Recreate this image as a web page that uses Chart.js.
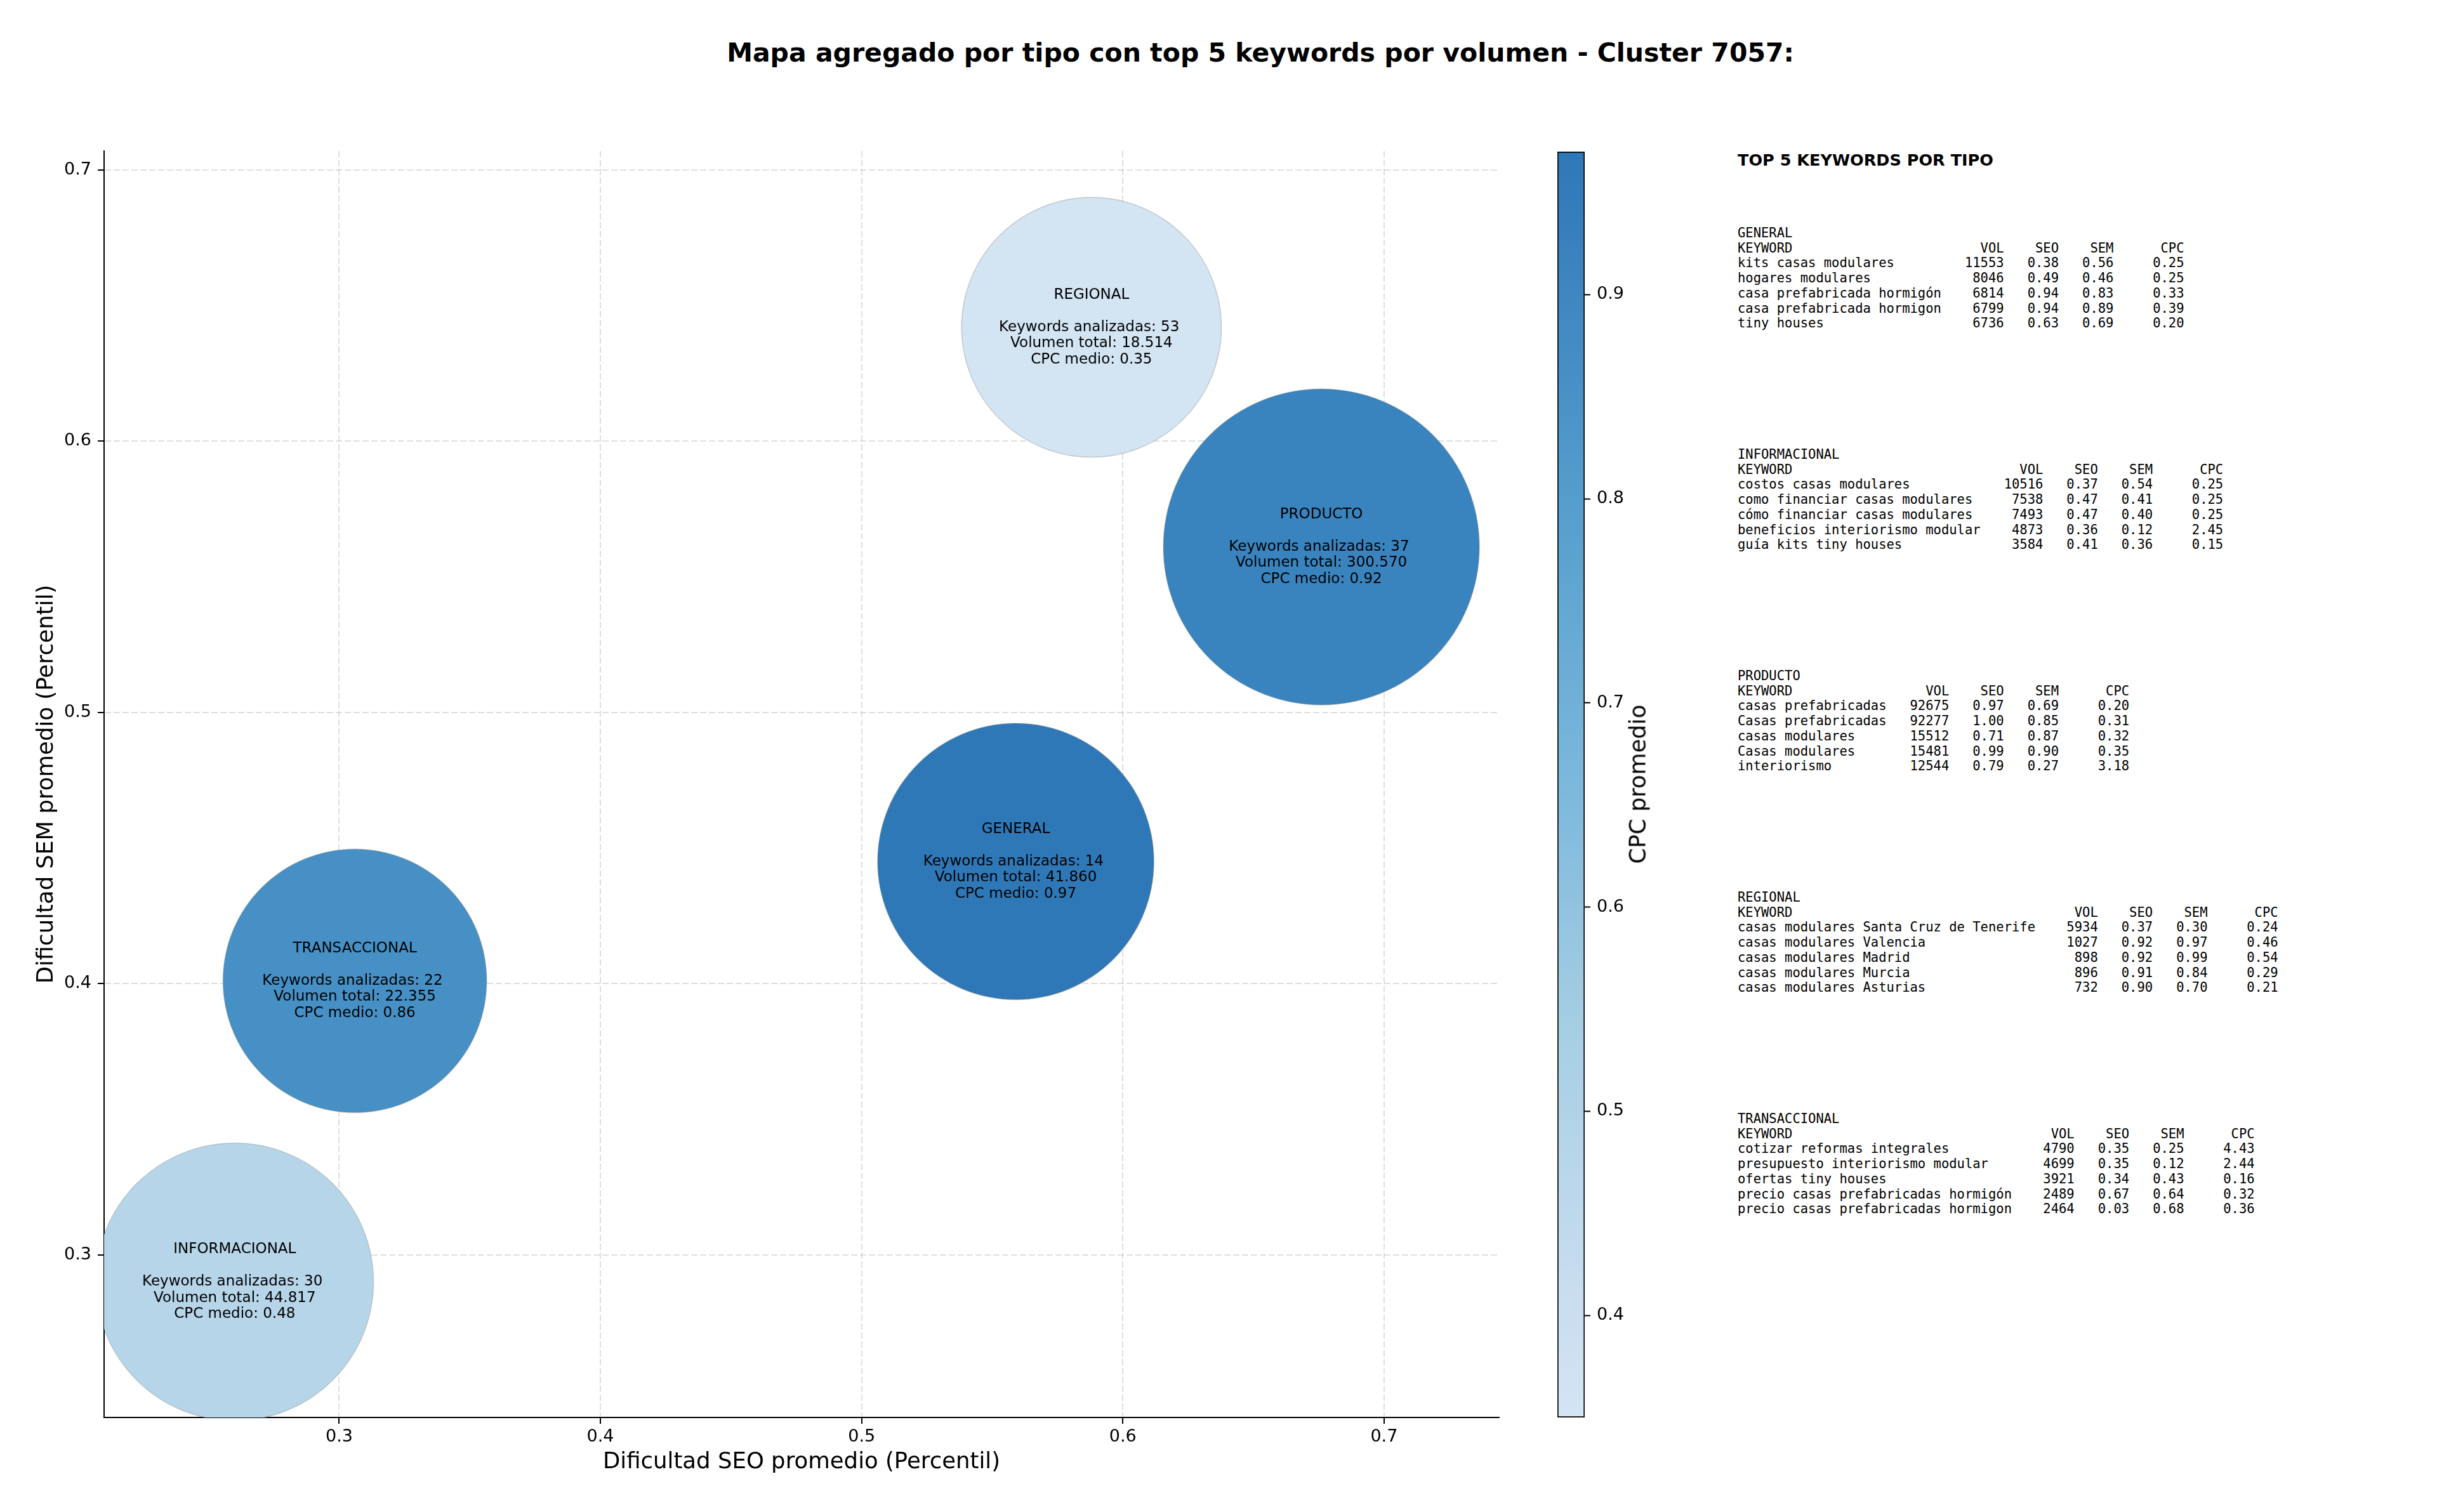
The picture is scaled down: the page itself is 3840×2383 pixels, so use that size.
<!DOCTYPE html>
<html>
<head>
<meta charset="utf-8">
<script src="https://cdn.jsdelivr.net/npm/chart.js"></script>
<style>
  html, body { margin: 0; padding: 0; background: #fff; }
  #page { position: relative; width: 3840px; height: 2383px; overflow: hidden; font-family: 'DejaVu Sans', sans-serif; color: #000; }
  #title { position: absolute; left: 1986px; top: 59px; transform: translateX(-50%); font-size: 41px; font-weight: bold; white-space: nowrap; line-height: normal; }
  #mainChart { position: absolute; left: 0; top: 0; }
  #cbarChart { position: absolute; left: 2454px; top: 0; }
  #cbarLabel { position: absolute; left: 2580px; top: 1236px; transform: translate(-50%, -50%) rotate(-90deg); font-size: 35.5px; white-space: nowrap; }
  #side { position: absolute; left: 2738px; top: 0; }
  #sideTitle { position: absolute; left: 0; top: 237px; font-size: 25.5px; font-weight: bold; white-space: nowrap; line-height: 30px; }
  .block { position: absolute; left: 0; margin: 0; font-family: 'DejaVu Sans Mono', monospace; font-size: 20.5px; line-height: 23.7px; white-space: pre; }
</style>
</head>
<body>
<div id="page">
  <div id="title">Mapa agregado por tipo con top 5 keywords por volumen - Cluster 7057:</div>
  <canvas id="mainChart" width="2400" height="2383"></canvas>
  <canvas id="cbarChart" width="220" height="2383"></canvas>
  <div id="cbarLabel">CPC promedio</div>
  <div id="side">
    <div id="sideTitle">TOP 5 KEYWORDS POR TIPO</div>
  </div>
</div>
<script>
// aggregated values per type
const tipos = ["GENERAL", "INFORMACIONAL", "PRODUCTO", "REGIONAL", "TRANSACCIONAL"];
const seoPromedio = [0.559, 0.260, 0.676, 0.588, 0.306];
const semPromedio = [0.445, 0.290, 0.561, 0.642, 0.401];
const keywordsAnalizadas = [14, 30, 37, 53, 22];
const volumenTotal = [41860, 44817, 300570, 18514, 22355];
const cpcMedio = [0.97, 0.48, 0.92, 0.35, 0.86];

// axes
const xRange = [0.210, 0.744];
const yRange = [0.240, 0.707];
const cpcRange = [0.35, 0.97];
const xTicks = [0.3, 0.4, 0.5, 0.6, 0.7];
const yTicks = [0.3, 0.4, 0.5, 0.6, 0.7];
const cbarTicks = [0.4, 0.5, 0.6, 0.7, 0.8, 0.9];

// top 5 keywords: [keyword, vol, seo, sem, cpc]
const topGeneral = [
  ["kits casas modulares", 11553, 0.38, 0.56, 0.25],
  ["hogares modulares", 8046, 0.49, 0.46, 0.25],
  ["casa prefabricada hormigón", 6814, 0.94, 0.83, 0.33],
  ["casa prefabricada hormigon", 6799, 0.94, 0.89, 0.39],
  ["tiny houses", 6736, 0.63, 0.69, 0.20]
];
const topInformacional = [
  ["costos casas modulares", 10516, 0.37, 0.54, 0.25],
  ["como financiar casas modulares", 7538, 0.47, 0.41, 0.25],
  ["cómo financiar casas modulares", 7493, 0.47, 0.40, 0.25],
  ["beneficios interiorismo modular", 4873, 0.36, 0.12, 2.45],
  ["guía kits tiny houses", 3584, 0.41, 0.36, 0.15]
];
const topProducto = [
  ["casas prefabricadas", 92675, 0.97, 0.69, 0.20],
  ["Casas prefabricadas", 92277, 1.00, 0.85, 0.31],
  ["casas modulares", 15512, 0.71, 0.87, 0.32],
  ["Casas modulares", 15481, 0.99, 0.90, 0.35],
  ["interiorismo", 12544, 0.79, 0.27, 3.18]
];
const topRegional = [
  ["casas modulares Santa Cruz de Tenerife", 5934, 0.37, 0.30, 0.24],
  ["casas modulares Valencia", 1027, 0.92, 0.97, 0.46],
  ["casas modulares Madrid", 898, 0.92, 0.99, 0.54],
  ["casas modulares Murcia", 896, 0.91, 0.84, 0.29],
  ["casas modulares Asturias", 732, 0.90, 0.70, 0.21]
];
const topTransaccional = [
  ["cotizar reformas integrales", 4790, 0.35, 0.25, 4.43],
  ["presupuesto interiorismo modular", 4699, 0.35, 0.12, 2.44],
  ["ofertas tiny houses", 3921, 0.34, 0.43, 0.16],
  ["precio casas prefabricadas hormigón", 2489, 0.67, 0.64, 0.32],
  ["precio casas prefabricadas hormigon", 2464, 0.03, 0.68, 0.36]
];
const topPorTipo = [topGeneral, topInformacional, topProducto, topRegional, topTransaccional];

Chart.defaults.font.family = "'DejaVu Sans', sans-serif";
Chart.defaults.color = "#000";

const BLUES = [[247,251,255],[222,235,247],[198,219,239],[158,202,225],[107,174,214],[66,146,198],[33,113,181],[8,81,156],[8,48,107]];
function blues(u) {
  const p = Math.max(0, Math.min(1, u)) * 8;
  const i = Math.min(7, Math.floor(p));
  const f = p - i;
  return BLUES[i].map((c, k) => c + (BLUES[i + 1][k] - c) * f);
}
// colour for a CPC value, slightly transparent over white like the original
function cpcColor(v) {
  const t = (v - cpcRange[0]) / (cpcRange[1] - cpcRange[0]);
  const a = 0.92;
  const c = blues(0.2 + 0.57 * t).map(x => Math.round(a * x + (1 - a) * 255));
  return "rgb(" + c.join(",") + ")";
}
function bubbleRadius(vol) {
  return 48.7 + 15.88 * Math.log(vol);
}
function fmtMiles(n) {
  return String(n).replace(/\B(?=(\d{3})+(?!\d))/g, ".");
}

const bubbleLabels = {
  id: "bubbleLabels",
  afterDraw(chart) {
    const { ctx, scales: { x, y } } = chart;
    ctx.save();
    ctx.font = "23px 'DejaVu Sans'";
    ctx.fillStyle = "#000";
    ctx.textAlign = "center";
    ctx.textBaseline = "middle";
    tipos.forEach((t, i) => {
      const lines = [
        t, "",
        "Keywords analizadas: " + keywordsAnalizadas[i] + " ",
        "Volumen total: " + fmtMiles(volumenTotal[i]),
        "CPC medio: " + cpcMedio[i].toFixed(2)
      ];
      const cx = x.getPixelForValue(seoPromedio[i]);
      const cy = y.getPixelForValue(semPromedio[i]);
      lines.forEach((l, j) => ctx.fillText(l, cx, cy + (j - 2) * 25.5));
    });
    ctx.restore();
  }
};

const axisCommon = {
  type: "linear",
  z: 1,
  grid: { color: "rgba(176,176,176,0.4)", lineWidth: 2, tickLength: 10, tickColor: "#000", tickWidth: 2 },
  border: { display: true, color: "#000", width: 2, dash: [10, 4] },
  title: { display: true, font: { size: 35.5, lineHeight: 1 } }
};

new Chart(document.getElementById("mainChart"), {
  type: "bubble",
  data: {
    datasets: [{
      data: tipos.map((t, i) => ({ x: seoPromedio[i], y: semPromedio[i], r: bubbleRadius(volumenTotal[i]) })),
      backgroundColor: cpcMedio.map(cpcColor),
      borderColor: "rgba(120,120,120,0.3)",
      borderWidth: 1.5,
      clip: 0
    }]
  },
  options: {
    responsive: false,
    animation: false,
    events: [],
    layout: { padding: { top: 238, right: 38, left: 0, bottom: 0 }, autoPadding: false },
    plugins: { legend: { display: false }, tooltip: { enabled: false } },
    scales: {
      x: {
        ...axisCommon,
        position: "bottom",
        min: xRange[0], max: xRange[1],
        afterBuildTicks: s => { s.ticks = xTicks.map(v => ({ value: v })); },
        afterFit: s => { s.height = 149; },
        ticks: { font: { size: 27 }, padding: 5, callback: v => v.toFixed(1) },
        title: { ...axisCommon.title, text: "Dificultad SEO promedio (Percentil)", padding: { bottom: 60 } }
      },
      y: {
        ...axisCommon,
        position: "left",
        min: yRange[0], max: yRange[1],
        afterBuildTicks: s => { s.ticks = yTicks.map(v => ({ value: v })); },
        afterFit: s => { s.width = 164; },
        ticks: { font: { size: 27 }, padding: 10, callback: v => v.toFixed(1) },
        title: { ...axisCommon.title, text: "Dificultad SEM promedio (Percentil)", padding: { top: 56 } }
      }
    }
  },
  plugins: [bubbleLabels]
});

// colorbar
new Chart(document.getElementById("cbarChart"), {
  type: "bar",
  data: {
    labels: ["CPC"],
    datasets: [{
      data: [cpcRange],
      backgroundColor: ctx => {
        const chart = ctx.chart;
        const area = chart.chartArea;
        if (!area) return cpcColor(cpcRange[1]);
        const ys = chart.scales.y;
        const g = chart.ctx.createLinearGradient(0, area.bottom, 0, area.top);
        for (let k = 0; k <= 20; k++) {
          const v = cpcRange[0] + (cpcRange[1] - cpcRange[0]) * k / 20;
          const pos = (ys.getPixelForValue(v) - area.bottom) / (area.top - area.bottom);
          g.addColorStop(Math.max(0, Math.min(1, pos)), cpcColor(v));
        }
        return g;
      },
      borderColor: "#000",
      borderWidth: 2,
      borderSkipped: false,
      barPercentage: 1,
      categoryPercentage: 1
    }]
  },
  options: {
    responsive: false,
    animation: false,
    events: [],
    layout: { padding: { top: 239, bottom: 149, left: 0, right: 0 }, autoPadding: false },
    plugins: { legend: { display: false }, tooltip: { enabled: false } },
    scales: {
      x: { display: false },
      y: {
        position: "right",
        min: cpcRange[0], max: cpcRange[1],
        afterBuildTicks: s => { s.ticks = cbarTicks.map(v => ({ value: v })); },
        afterFit: s => { s.width = 177; },
        ticks: { font: { size: 27 }, padding: 10, callback: v => v.toFixed(1) },
        grid: { drawOnChartArea: false, tickLength: 9, tickColor: "#000", tickWidth: 2 },
        border: { display: false }
      }
    }
  }
});

// side table
const side = document.getElementById("side");
const blockTops = [356, 705, 1054, 1403, 1752];
tipos.forEach((t, i) => {
  const rows = topPorTipo[i];
  const w = Math.max(...rows.map(r => r[0].length));
  const lines = [t, "KEYWORD".padEnd(w) + "VOL".padStart(8) + "SEO".padStart(7) + "SEM".padStart(7) + "CPC".padStart(9)];
  rows.forEach(r => {
    lines.push(r[0].padEnd(w) + String(r[1]).padStart(8) + r[2].toFixed(2).padStart(7) + r[3].toFixed(2).padStart(7) + r[4].toFixed(2).padStart(9));
  });
  const pre = document.createElement("pre");
  pre.className = "block";
  pre.style.top = blockTops[i] + "px";
  pre.textContent = lines.join("\n");
  side.appendChild(pre);
});
</script>
</body>
</html>
